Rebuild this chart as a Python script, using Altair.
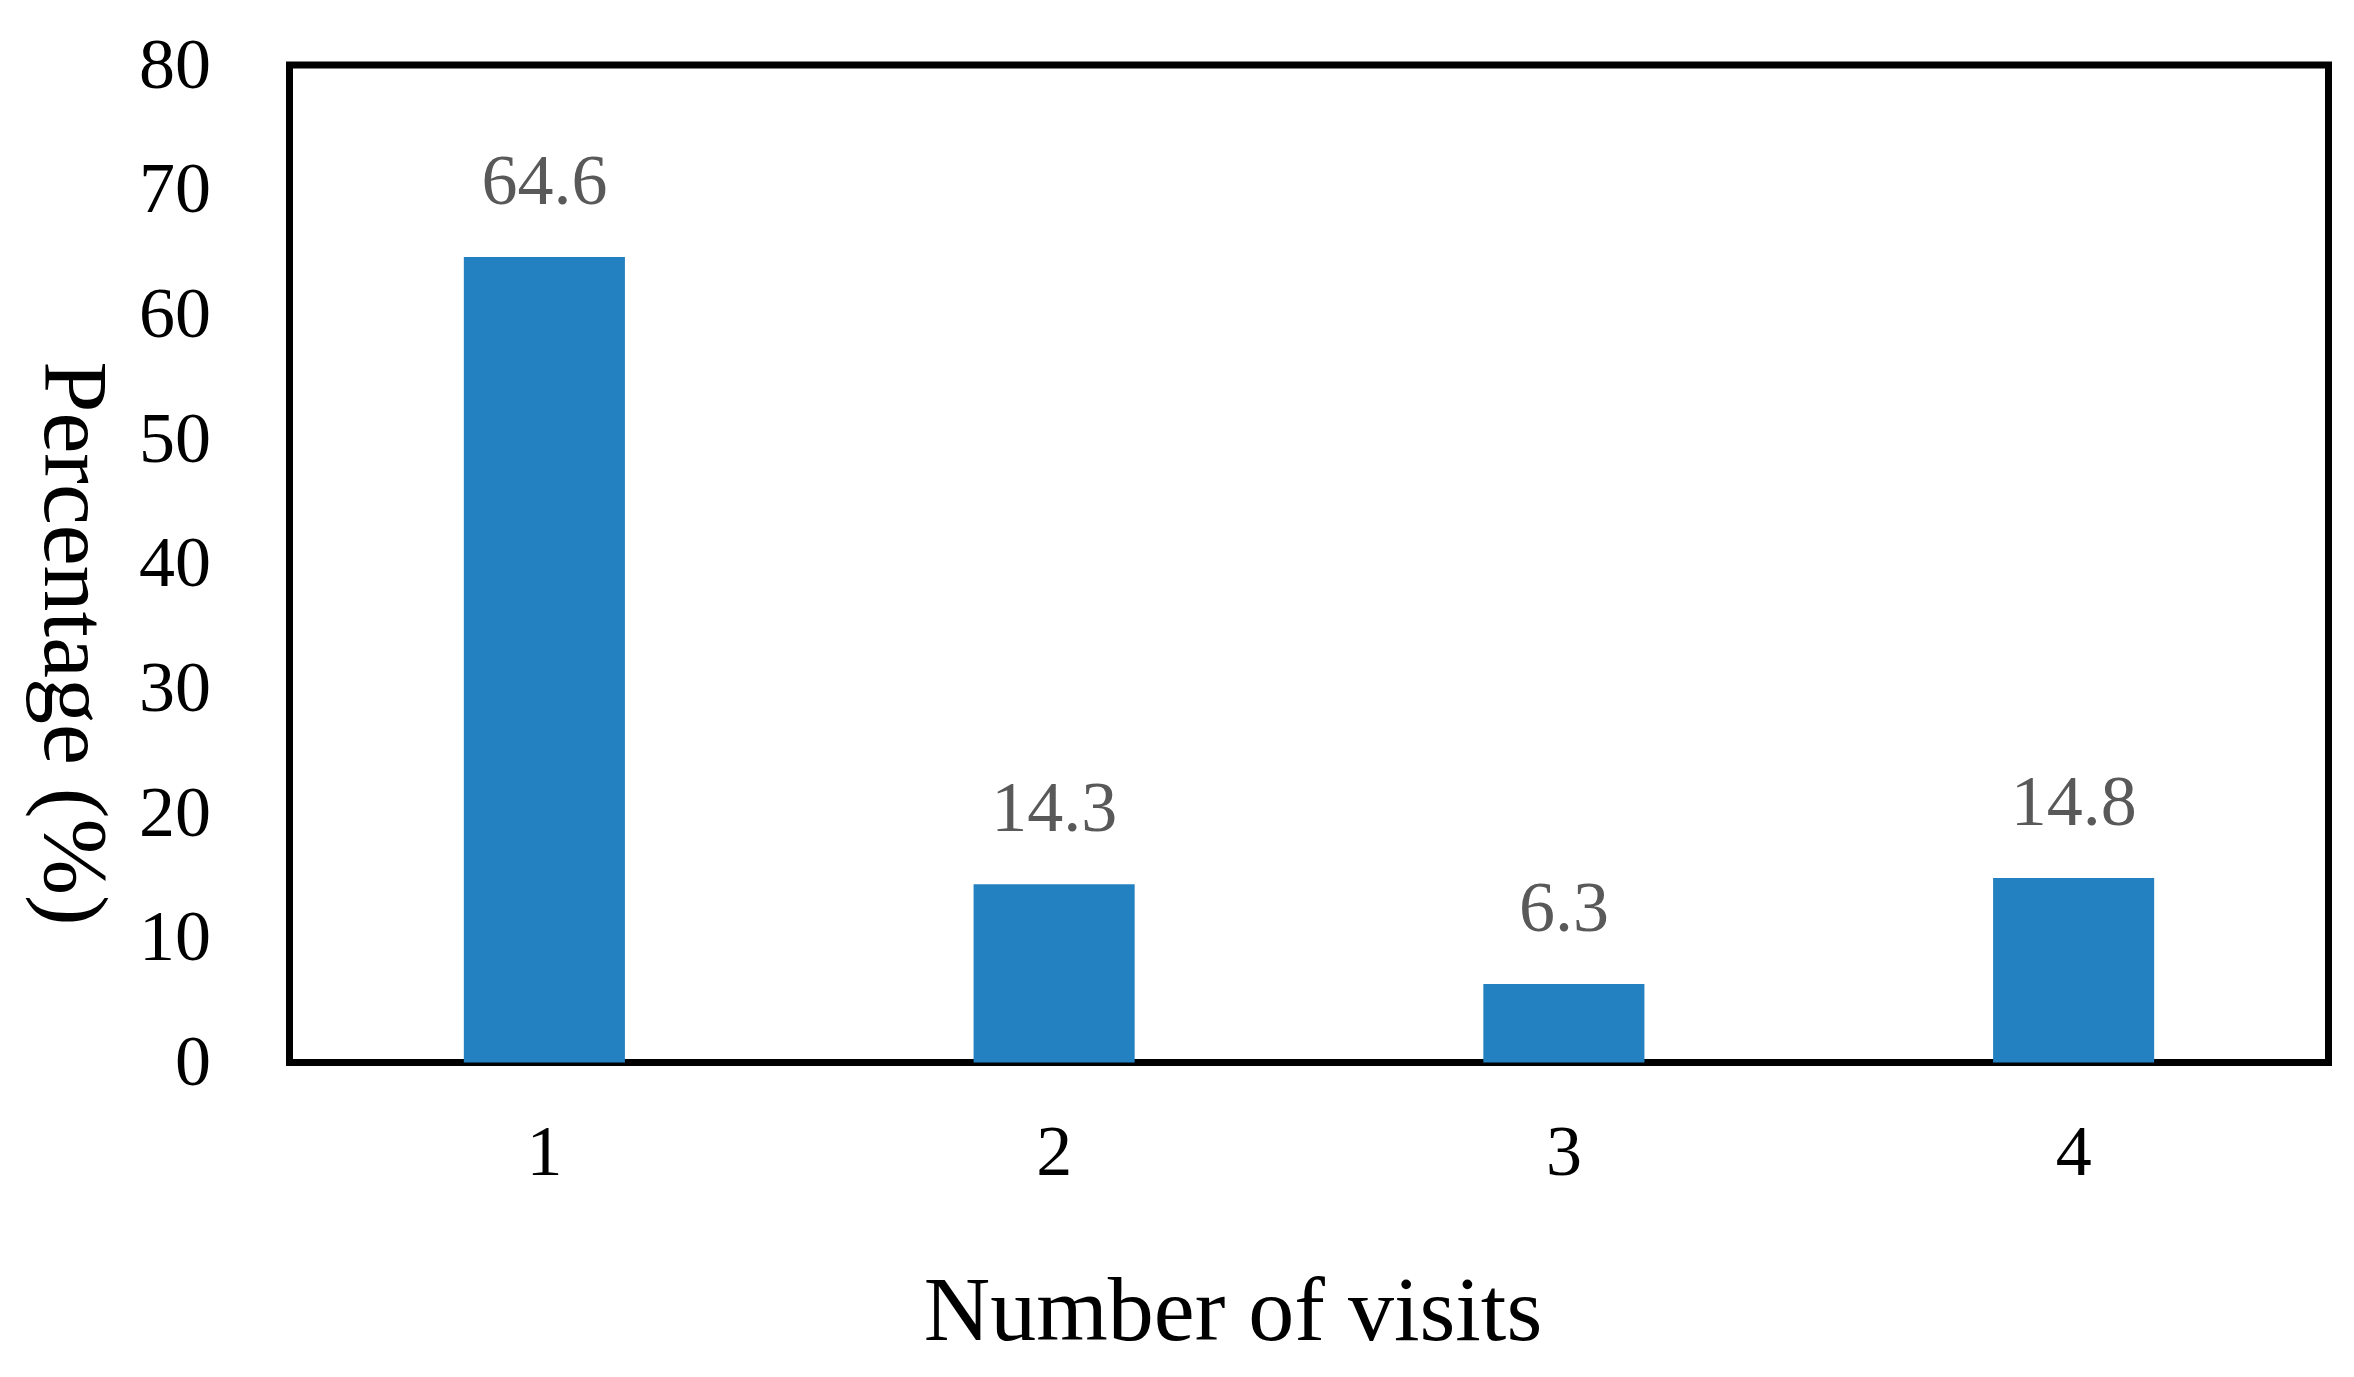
import altair as alt
import pandas as pd

visits = ["1", "2", "3", "4"]
percentages = [64.6, 14.3, 6.3, 14.8]
value_labels = ["64.6", "14.3", "6.3", "14.8"]
y_ticks = [0, 10, 20, 30, 40, 50, 60, 70, 80]

df = pd.DataFrame({"visits": visits, "pct": percentages, "label": value_labels})

FONT = "Liberation Serif"

x = alt.X(
    "visits:N",
    sort=visits,
    scale=alt.Scale(paddingInner=0.684, paddingOuter=0.342),
    axis=alt.Axis(
        title="Number of visits",
        labelAngle=0,
        labelFont=FONT,
        labelFontSize=72,
        labelColor="#000000",
        labelPadding=55,
        labelBaseline="top",
        ticks=False,
        tickSize=0,
        domain=False,
        titleFont=FONT,
        titleFontSize=92,
        titleFontWeight="normal",
        titleColor="#000000",
        titleAlign="center",
        titleBaseline="alphabetic",
        titleX=943,
        titleY=277,
    ),
)

y = alt.Y(
    "pct:Q",
    scale=alt.Scale(domain=[0, 80], nice=False),
    axis=alt.Axis(
        title="Percentage (%)",
        values=y_ticks,
        labelFont=FONT,
        labelFontSize=72,
        labelColor="#000000",
        labelPadding=79,
        ticks=False,
        tickSize=0,
        domain=False,
        grid=False,
        titleFont=FONT,
        titleFontSize=92,
        titleFontWeight="normal",
        titleColor="#000000",
        titleAngle=90,
        titleAlign="center",
        titleBaseline="middle",
        titleX=-217,
        titleY=578,
    ),
)

bars = alt.Chart(df).mark_bar(color="#2481c1").encode(x=x, y=y)

labels = alt.Chart(df).mark_text(
    font=FONT, fontSize=72, color="#595959", baseline="alphabetic", dy=-53
).encode(x=alt.X("visits:N", sort=visits), y=alt.Y("pct:Q"), text="label:N")

chart = (
    alt.layer(bars, labels)
    .properties(
        width=2039,
        height=997.5,
        autosize=alt.AutoSizeParams(type="none"),
        padding={"left": 281.5, "top": 57, "right": 17, "bottom": 300},
        background="#ffffff",
    )
    .configure_view(stroke="#000000", strokeWidth=7)
)

chart.save("out.html", embed_options={"renderer": "svg", "actions": False})
